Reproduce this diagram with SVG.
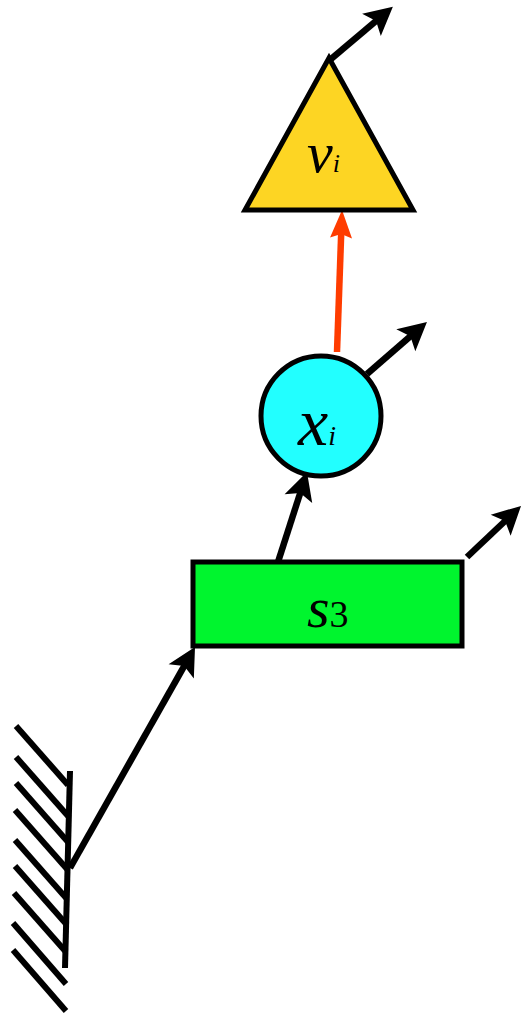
<svg xmlns="http://www.w3.org/2000/svg" width="522" height="1016" viewBox="0 0 522 1016">
<style>
.node{stroke:#000;stroke-width:5}
.lbl{font-family:"Liberation Serif","Times New Roman",serif;font-style:italic;fill:#000}
.sub{font-style:normal}
.blk{stroke:#000;stroke-width:6.5;fill:none;marker-end:url(#ah)}
.red{stroke:#ff3c00;stroke-width:6.5;fill:none;marker-end:url(#ahr)}
.wall{stroke:#000;stroke-width:6;fill:none}
</style>
<defs>
<marker id="ah" markerUnits="userSpaceOnUse" markerWidth="50" markerHeight="50" viewBox="-25 -25 50 50" refX="0" refY="0" orient="auto">
<path d="M12,0 L-16,-14.5 L-10,0 L-16,14.5 Z" fill="#000"/>
</marker>
<marker id="ahr" markerUnits="userSpaceOnUse" markerWidth="50" markerHeight="50" viewBox="-25 -25 50 50" refX="0" refY="0" orient="auto">
<path d="M12,0 L-16,-11 L-12,0 L-16,11 Z" fill="#ff3c00"/>
</marker>
</defs>
<g id="wall">
<line class="wall" x1="70" y1="771" x2="65" y2="968"/>
<line class="wall" x1="16" y1="726" x2="68" y2="785"/>
<line class="wall" x1="16" y1="757" x2="68" y2="816"/>
<line class="wall" x1="16" y1="783" x2="68" y2="842"/>
<line class="wall" x1="15" y1="810" x2="67" y2="869"/>
<line class="wall" x1="15" y1="840" x2="67" y2="899"/>
<line class="wall" x1="15" y1="866" x2="67" y2="925"/>
<line class="wall" x1="14" y1="893" x2="66" y2="952"/>
<line class="wall" x1="13" y1="923" x2="66" y2="984"/>
<line class="wall" x1="13" y1="950" x2="66" y2="1011"/>
</g>
<g id="connectors">
<line class="blk" x1="70" y1="868" x2="189.1" y2="657.4"/>
<line class="blk" x1="278" y1="562" x2="303.3" y2="483.4"/>
<line class="blk" x1="467" y1="557" x2="512.3" y2="514.2"/>
<line class="blk" x1="367" y1="374" x2="417.9" y2="329.8"/>
<line class="blk" x1="331" y1="59" x2="383.7" y2="14.6"/>
<line class="red" x1="337" y1="352" x2="341.6" y2="222"/>
</g>
<g id="node-s3">
<rect class="node" x="193" y="562" width="269" height="84" fill="#00f52e"/>
<text class="lbl" x="307" y="627" font-size="58">s<tspan class="sub" font-size="38">3</tspan></text>
</g>
<g id="node-xi">
<circle class="node" cx="321" cy="416" r="60" fill="#22ffff"/>
<text class="lbl" x="298" y="445" font-size="68">x<tspan font-size="28">i</tspan></text>
</g>
<g id="node-vi">
<polygon class="node" points="329,58 245,210 413,210" fill="#fdd523" stroke-linejoin="miter"/>
<text class="lbl" x="307" y="172" font-size="58">v<tspan font-size="26">i</tspan></text>
</g>
</svg>
